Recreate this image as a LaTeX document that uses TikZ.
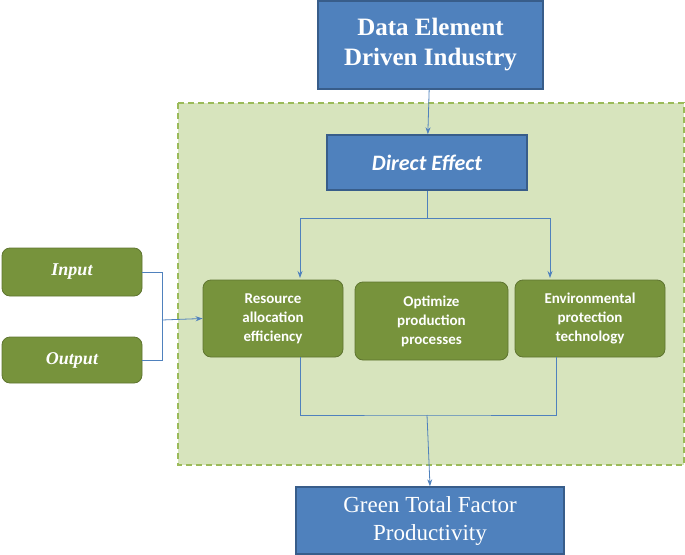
\documentclass[tikz,border=0pt]{standalone}
\usepackage{fontspec}
\setmainfont{Liberation Serif}
\newfontfamily\sansf{Carlito}
\usetikzlibrary{arrows.meta}
\definecolor{bluef}{HTML}{4F81BD}
\definecolor{blued}{HTML}{385D8A}
\definecolor{greenf}{HTML}{77933C}
\definecolor{greend}{HTML}{5F7530}
\definecolor{regf}{HTML}{D7E4BD}
\definecolor{regd}{HTML}{9BBB59}
\definecolor{linec}{HTML}{4F81BD}
\tikzset{
 bluebox/.style={draw=blued,line width=1.5pt,fill=bluef,text=white,align=center,inner sep=0pt},
 greenbox/.style={draw=greend,line width=0.8pt,fill=greenf,text=white,align=center,rounded corners=8pt,inner sep=0pt,font=\sansf\bfseries\fontsize{15}{19}\selectfont},
 conn/.style={draw=linec,line width=0.8pt},
 arr/.style={conn,-{Stealth[length=7pt,width=5pt]}}
}
\begin{document}
\begin{tikzpicture}[x=1pt,y=-1pt]
\useasboundingbox (0,0) rectangle (685,554);
\fill[regf] (178,103) rectangle (684,465);
\draw[regd,line width=1.5pt,dash pattern=on 6pt off 4pt] (178,103) rectangle (684,465);
\node[bluebox,minimum width=225pt,minimum height=88pt,font=\bfseries\fontsize{25}{30}\selectfont] (top) at (430.5,45) {Data Element\\Driven Industry};
\node[bluebox,minimum width=200pt,minimum height=55pt,font=\sansf\bfseries\itshape\fontsize{22}{26}\selectfont] (de) at (427,162.5) {Direct Effect};
\node[greenbox,minimum width=140pt,minimum height=77pt] (r) at (273,318.5) {Resource\\allocation\\efficiency};
\node[greenbox,minimum width=153pt,minimum height=78pt] (o) at (431.5,321) {Optimize\\production\\processes};
\node[greenbox,minimum width=150pt,minimum height=77pt] (e) at (590,318.5) {Environmental\\protection\\technology};
\node[greenbox,minimum width=140pt,minimum height=48pt,font=\bfseries\itshape\fontsize{18}{22}\selectfont] (in) at (72,272) {Input};
\node[greenbox,minimum width=140pt,minimum height=46pt,font=\bfseries\itshape\fontsize{18}{22}\selectfont] (out) at (72,360) {Output};
\node[bluebox,minimum width=268pt,minimum height=67pt,font=\fontsize{23}{28}\selectfont] (g) at (430,520.5) {Green Total Factor\\Productivity};
\draw[arr] (top) -- (de);
\coordinate (j) at (427,218);
\draw[conn] (de) -- (j);
\draw[arr] (j) -| (300,278);
\draw[arr] (j) -| (550,278);
\draw[conn] (in.east) -| (162,320);
\draw[conn] (out.east) -| (162,320);
\draw[arr] (162,320) -- (r.west);
\coordinate (b) at (427,415);
\draw[conn] (300,357) |- (b) -| (556,357);
\draw[arr] (b) -- (g.north);
\end{tikzpicture}
\end{document}
